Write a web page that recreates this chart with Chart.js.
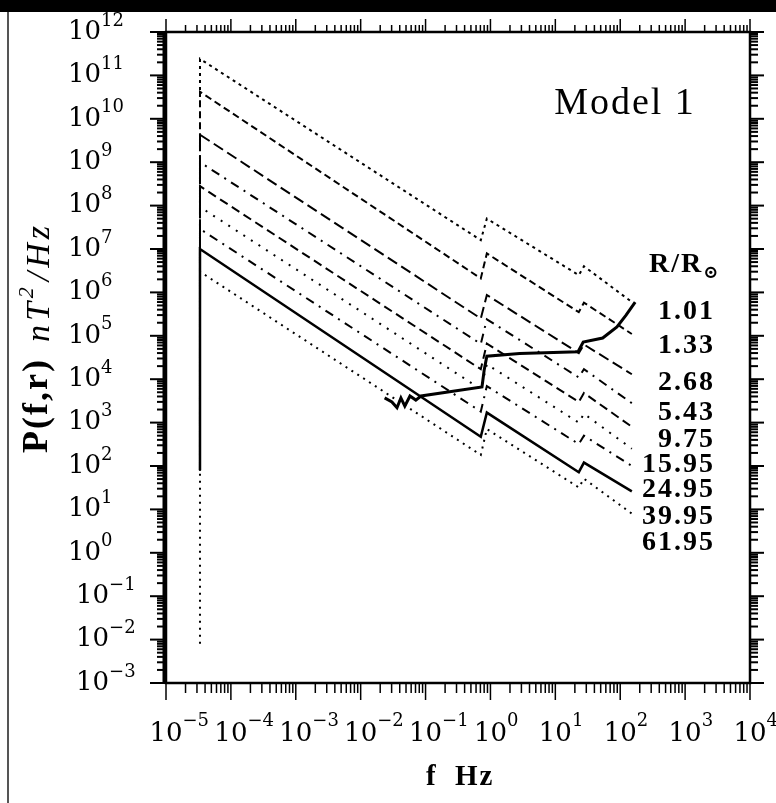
<!DOCTYPE html>
<html>
<head>
<meta charset="utf-8">
<script src="https://cdn.jsdelivr.net/npm/chart.js@4.4.0/dist/chart.umd.min.js"></script>
<style>
  html, body { margin: 0; padding: 0; background: #fff; }
  #wrap { position: relative; width: 776px; height: 803px; overflow: hidden; }
  #chart { position: absolute; left: 0; top: 0; }
  #topband { position: absolute; left: 0; top: 0; width: 776px; height: 12px; background: #000; }
  #leftline { position: absolute; left: 7px; top: 12px; width: 2px; height: 791px; background: #555; }
</style>
</head>
<body>
<div id="wrap">
  <canvas id="chart" width="776" height="803"></canvas>
  <div id="topband"></div>
  <div id="leftline"></div>
</div>
<script>
// ================================
// DATA
// ================================
// break frequencies (Hz) shared by the nine R/Ro curves
const fBreaks = [3.34e-5, 3.34e-5, 0.71, 0.88, 23, 27.6, 151];

// P(f,r) in nT^2/Hz at those frequencies, one array per curve (top to bottom)
const p101  = [3.2e10, 2.4e11, 1.6e7, 5.0e7, 2.5e6, 4.0e6, 6.0e5];
const p133  = [80, 4.2e10, 2.1e6, 7.9e6, 3.5e5, 5.8e5, 1.1e5];
const p268  = [80, 4.3e9, 2.5e5, 8.7e5, 4.0e4, 6.3e4, 1.3e4];
const p543  = [80, 1.0e9, 6.5e4, 2.4e5, 1.1e4, 1.7e4, 2.8e3];
const p975  = [80, 2.8e8, 1.7e4, 6.6e4, 3.0e3, 4.8e3, 8.0e2];
const p1595 = [80, 9.3e7, 5.9e3, 2.2e4, 1.0e3, 1.6e3, 2.5e2];
const p2495 = [80, 2.9e7, 1.8e3, 6.9e3, 3.2e2, 5.0e2, 1.0e2];
const p3995 = [80, 1.0e7, 4.7e2, 1.7e3, 72, 1.2e2, 26];
const p6195 = [8e-3, 3.0e6, 1.8e2, 7.1e2, 32, 51, 8.0];

// the solid line that turns upward at high frequency
const fKnee = [0.0234, 0.0303, 0.0363, 0.0417, 0.0479, 0.0575, 0.0708, 0.0851,
               0.741, 0.80, 0.88, 2.82, 22.4, 26.9, 53.7, 89, 123, 170];
const pKnee = [3.7e3, 3.0e3, 2.2e3, 3.7e3, 2.4e3, 4.1e3, 3.3e3, 4.1e3,
               6.6e3, 1.6e4, 3.4e4, 3.9e4, 4.3e4, 7.2e4, 8.9e4, 1.6e5, 3.0e5, 6.0e5];

const curveLabels = ["1.01", "1.33", "2.68", "5.43", "9.75", "15.95", "24.95", "39.95", "61.95"];
const xTickExp = [-5, -4, -3, -2, -1, 0, 1, 2, 3, 4];
const yTickExp = [-3, -2, -1, 0, 1, 2, 3, 4, 5, 6, 7, 8, 9, 10, 11, 12];

// ================================
// DATASETS
// ================================
function pts(fs, ps) {
  return fs.map((f, i) => ({ x: f, y: ps[i] }));
}

const series = [p101, p133, p268, p543, p975, p1595, p2495, p3995, p6195];
const dashes = [[3, 4], [7, 4], [11, 5], [9, 6, 2, 6], [9, 5], [2, 7], [9, 6, 2, 6], [], [2, 5]];

const datasets = series.map((ps, i) => ({
  label: curveLabels[i],
  data: pts(fBreaks, ps),
  borderColor: "#000",
  borderWidth: i === 7 ? 2.5 : 2,
  borderDash: dashes[i],
  pointRadius: 0,
  tension: 0,
  fill: false
}));

datasets.push({
  label: "knee",
  data: pts(fKnee, pKnee),
  borderColor: "#000",
  borderWidth: 3,
  pointRadius: 0,
  tension: 0,
  fill: false
});

// ================================
// FRAME, TICKS AND TEXT
// ================================
const SERIF = '"Liberation Serif", "DejaVu Serif", serif';
const TICKFONT = '"DejaVu Serif", serif';

function expText(e) {
  return e < 0 ? "\u2212" + (-e) : String(e);
}

const framePlugin = {
  id: "frame",
  afterDatasetsDraw(chart) {
    const ctx = chart.ctx;
    const a = chart.chartArea;
    const xs = chart.scales.x;
    const ys = chart.scales.y;
    ctx.save();
    ctx.strokeStyle = "#000";
    ctx.fillStyle = "#000";

    // box
    ctx.lineWidth = 2.5;
    ctx.strokeRect(a.left, a.top, a.right - a.left, a.bottom - a.top);
    ctx.lineWidth = 3;
    ctx.beginPath();
    ctx.moveTo(a.left - 2, a.top);
    ctx.lineTo(a.left - 2, a.bottom);
    ctx.stroke();

    function seg(x1, y1, x2, y2) {
      ctx.beginPath();
      ctx.moveTo(x1, y1);
      ctx.lineTo(x2, y2);
      ctx.stroke();
    }

    // x ticks (outward, top and bottom)
    ctx.lineWidth = 1.5;
    for (let e = -5; e <= 4; e++) {
      for (let m = 1; m <= 9; m++) {
        const v = m * Math.pow(10, e);
        if (v > 1e4) break;
        const px = xs.getPixelForValue(v);
        const major = m === 1;
        seg(px, a.bottom, px, a.bottom + (major ? 17 : 10));
        seg(px, a.top, px, a.top - (major ? 13 : 7));
      }
    }

    // y ticks (outward, left and right)
    ctx.lineWidth = 2;
    for (let e = -3; e <= 12; e++) {
      for (let m = 1; m <= 9; m++) {
        const v = m * Math.pow(10, e);
        if (v > 1e12) break;
        const py = ys.getPixelForValue(v);
        const major = m === 1;
        seg(a.left, py, a.left - (major ? 16 : 9), py);
        seg(a.right, py, a.right + (major ? 14 : 8), py);
      }
    }

    // tick labels
    ctx.textBaseline = "middle";
    xTickExp.forEach(e => {
      const px = xs.getPixelForValue(Math.pow(10, e));
      ctx.font = "26px " + TICKFONT;
      const w = ctx.measureText("10").width;
      ctx.textAlign = "center";
      ctx.fillText("10", px, 734);
      ctx.font = "18px " + TICKFONT;
      ctx.textAlign = "left";
      ctx.fillText(expText(e), px + w / 2, 721);
    });

    yTickExp.forEach(e => {
      const py = ys.getPixelForValue(Math.pow(10, e));
      const left = e < 0 ? 76 : 68;
      ctx.font = "26px " + TICKFONT;
      ctx.textAlign = "left";
      const w = ctx.measureText("10").width;
      ctx.fillText("10", left, py);
      ctx.font = "18px " + TICKFONT;
      ctx.fillText(expText(e), left + w, py - 11);
    });

    // x title
    ctx.font = "bold 29px " + SERIF;
    ctx.textAlign = "left";
    ctx.fillText("f", 426, 778);
    ctx.letterSpacing = "2px";
    ctx.fillText("Hz", 455, 778);
    ctx.letterSpacing = "0px";

    // y title (rotated)
    ctx.save();
    ctx.translate(38, 453);
    ctx.rotate(-Math.PI / 2);
    let cx = 0;
    ctx.letterSpacing = "2px";
    ctx.font = "bold 36px " + SERIF;
    ctx.fillText("P(f,r)", cx, 0);
    cx += ctx.measureText("P(f,r)").width + 16;
    ctx.letterSpacing = "4px";
    ctx.font = "italic 34px " + SERIF;
    ctx.fillText("nT", cx, 2);
    cx += ctx.measureText("nT").width;
    ctx.font = "italic 22px " + SERIF;
    ctx.fillText("2", cx, -11);
    cx += ctx.measureText("2").width + 2;
    ctx.font = "italic 34px " + SERIF;
    ctx.fillText("/Hz", cx, 2);
    ctx.restore();
    ctx.letterSpacing = "0px";

    // Model 1
    ctx.font = "38px " + SERIF;
    ctx.textAlign = "center";
    ctx.letterSpacing = "2px";
    ctx.fillText("Model 1", 625, 104);

    // R/Ro header
    ctx.font = "bold 28px " + SERIF;
    ctx.textAlign = "left";
    ctx.fillText("R/R", 649, 265);
    const hw = ctx.measureText("R/R").width;
    ctx.font = "bold 18px " + SERIF;
    ctx.fillText("\u2299", 649 + hw, 273);

    // curve labels
    const labelY = [312, 346, 383, 413, 440, 465, 490, 517, 543];
    ctx.font = "bold 28px " + SERIF;
    ctx.textAlign = "right";
    curveLabels.forEach((t, i) => {
      ctx.fillText(t, 715, labelY[i]);
    });
    ctx.letterSpacing = "0px";

    ctx.restore();
  }
};

// ================================
// CHART
// ================================
new Chart(document.getElementById("chart"), {
  type: "line",
  data: { datasets: datasets },
  options: {
    responsive: false,
    animation: false,
    layout: { padding: { left: 166, right: 26, top: 32, bottom: 120 } },
    plugins: {
      legend: { display: false },
      tooltip: { enabled: false }
    },
    scales: {
      x: { type: "logarithmic", min: 1e-5, max: 1e4, display: false },
      y: { type: "logarithmic", min: 1e-3, max: 1e12, display: false }
    }
  },
  plugins: [framePlugin]
});
</script>
</body>
</html>
